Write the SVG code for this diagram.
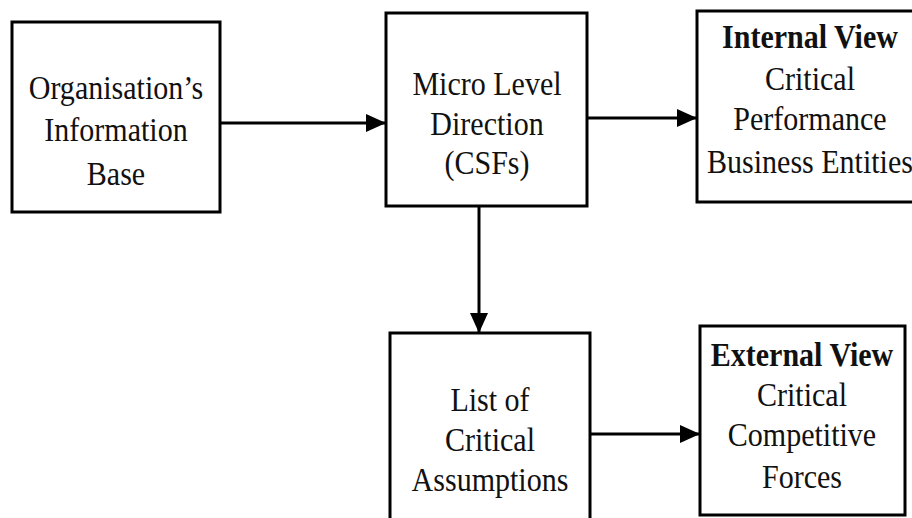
<svg xmlns="http://www.w3.org/2000/svg" width="912" height="518" viewBox="0 0 912 518">
<style>
.box{fill:#fff;stroke:#000;stroke-width:3}
.t{font-family:"Liberation Serif","Times New Roman",serif;font-size:33px;fill:#111;text-anchor:middle}
.b{font-weight:bold}
.c{stroke:#000;stroke-width:3;fill:none}
</style>
<defs>
<marker id="ah" markerUnits="userSpaceOnUse" markerWidth="20" markerHeight="20" refX="20" refY="10" orient="auto" viewBox="0 0 20 20">
<path d="M0,1 L20,10 L0,19 Z" fill="#000"/>
</marker>
</defs>
<rect width="912" height="518" fill="#fff"/>
<g id="connectors">
<line class="c" x1="220" y1="123" x2="386" y2="123" marker-end="url(#ah)"/>
<line class="c" x1="587" y1="118" x2="697" y2="118" marker-end="url(#ah)"/>
<line class="c" x1="479" y1="206" x2="479" y2="333" marker-end="url(#ah)"/>
<line class="c" x1="590" y1="434" x2="700" y2="434" marker-end="url(#ah)"/>
</g>
<g id="n1">
<rect class="box" x="12" y="22" width="208" height="190"/>
<g transform="translate(116 0) scale(0.91 1)">
<text class="t" x="0" y="99">Organisation’s</text>
<text class="t" x="0" y="141">Information</text>
<text class="t" x="0" y="185">Base</text>
</g>
</g>
<g id="n2">
<rect class="box" x="386" y="13" width="201" height="193"/>
<g transform="translate(487 0) scale(0.91 1)">
<text class="t" x="0" y="95">Micro Level</text>
<text class="t" x="0" y="135">Direction</text>
<text class="t" x="0" y="174">(CSFs)</text>
</g>
</g>
<g id="n3">
<rect class="box" x="697" y="11" width="230" height="191"/>
<g transform="translate(810 0) scale(0.91 1)">
<text class="t b" x="0" y="48">Internal View</text>
<text class="t" x="0" y="90">Critical</text>
<text class="t" x="0" y="130">Performance</text>
<text class="t" x="0" y="173">Business Entities</text>
</g>
</g>
<g id="n4">
<rect class="box" x="390" y="333" width="200" height="200"/>
<g transform="translate(490 0) scale(0.91 1)">
<text class="t" x="0" y="411">List of</text>
<text class="t" x="0" y="451">Critical</text>
<text class="t" x="0" y="491">Assumptions</text>
</g>
</g>
<g id="n5">
<rect class="box" x="700" y="326" width="205" height="189"/>
<g transform="translate(802 0) scale(0.91 1)">
<text class="t b" x="0" y="366">External View</text>
<text class="t" x="0" y="406">Critical</text>
<text class="t" x="0" y="446">Competitive</text>
<text class="t" x="0" y="488">Forces</text>
</g>
</g>
</svg>
